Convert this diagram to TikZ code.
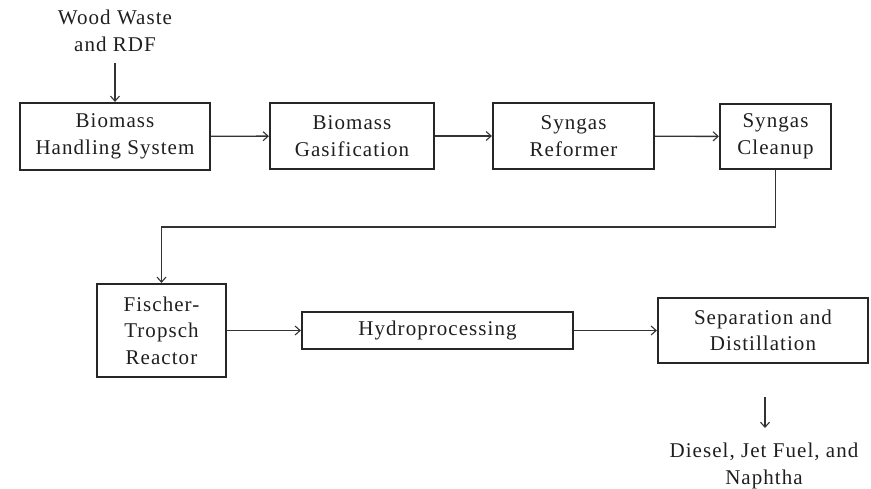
\documentclass[tikz,border=0pt]{standalone}
\usepackage{fontspec}
\setmainfont[LetterSpace=5]{Liberation Serif}
\usetikzlibrary{arrows.meta}
\begin{document}
\begin{tikzpicture}[x=1pt,y=-1pt,
  every node/.style={font=\fontsize{21}{26.5}\selectfont, text=black!88},
  stage/.style={draw=black!85, line width=2.2pt, align=center, inner sep=0pt},
  flow/.style={draw=black!80, line width=1.4pt, -{Straight Barb[length=5pt,width=9pt,line width=1.1pt]}},
  label/.style={align=center, inner sep=0pt}]
\useasboundingbox (0,0) rectangle (871,489);

% feedstock
\node[label] (feed) at (115,31) {Wood Waste\\and RDF};

% first row of stages
\node[stage, minimum width=190, minimum height=67] (handling) at (115,136.5) {Biomass\\Handling System};
\node[stage, minimum width=164, minimum height=66] (gasif) at (352,136) {Biomass\\Gasification};
\node[stage, minimum width=161, minimum height=66] (reformer) at (573.5,136) {Syngas\\Reformer};
\node[stage, minimum width=111, minimum height=65] (cleanup) at (775.5,136.5) {Syngas\\Cleanup};

% second row of stages
\node[stage, minimum width=129, minimum height=93] (ft) at (161.5,330.5) {Fischer-\\Tropsch\\Reactor};
\node[stage, minimum width=271, minimum height=37] (hydro) at (437.5,330.5) {Hydroprocessing};
\node[stage, minimum width=210, minimum height=65] (sep) at (763,330.5) {Separation and\\Distillation};

% products
\node[label] (prod) at (764,466) {Diesel, Jet Fuel, and\\Naphtha};
\coordinate (prodtop) at (765,397);

% connectors
\draw[flow] (115,63) -- (handling.north);
\draw[flow] (handling) -- (gasif);
\draw[flow] (gasif) -- (reformer);
\draw[flow] (reformer) -- (cleanup);
\draw[flow] (cleanup.south) -- ++(0,57) -| (ft.north);
\draw[flow] (ft) -- (hydro);
\draw[flow] (hydro) -- (sep);
\draw[flow] (prodtop) -- (765,428);
\end{tikzpicture}
\end{document}
